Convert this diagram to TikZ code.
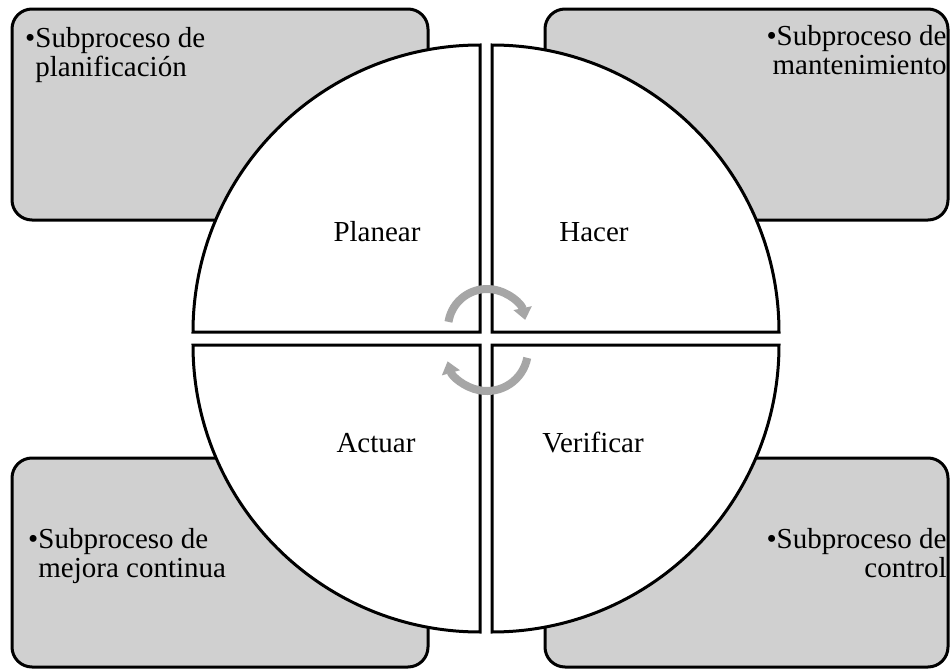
\documentclass[tikz,border=0pt]{standalone}
\usepackage{fontspec}
\setmainfont{Liberation Serif}
\usetikzlibrary{arrows.meta}
\definecolor{boxgray}{RGB}{208,208,208}
\definecolor{arrowgray}{RGB}{166,166,166}

\begin{document}
\begin{tikzpicture}[x=0.5pt, y=-0.5pt,
  subbox/.style={draw=black, fill=boxgray, line width=1.5pt, rounded corners=10pt},
  quarter/.style={draw=black, fill=white, line width=1.5pt},
  cycarrow/.style={draw=arrowgray, line width=4pt, -{Triangle[width=9pt, length=6pt]}},
  subtext/.style={font=\fontsize{14.5}{14.5}\selectfont, inner sep=0pt},
  phase/.style={font=\fontsize{14.5}{14.5}\selectfont, inner sep=0pt, anchor=base}]
  \useasboundingbox (0,0) rectangle (950,669);
  % four subprocess boxes
  \draw[subbox] (12,9) rectangle (428,220);
  \draw[subbox] (545,9) rectangle (948,220);
  \draw[subbox] (12,458) rectangle (428,667);
  \draw[subbox] (545,458) rectangle (948,667);
  % circle in four quarters
  \draw[quarter] (480,332) -- (193,332) arc[start angle=180, end angle=270, radius=287] -- cycle;
  \draw[quarter] (492,332) -- (492,45) arc[start angle=270, end angle=360, radius=287] -- cycle;
  \draw[quarter] (492,345) -- (779,345) arc[start angle=0, end angle=90, radius=287] -- cycle;
  \draw[quarter] (480,345) -- (480,632) arc[start angle=90, end angle=180, radius=287] -- cycle;
  \node[phase] (planear) at (377,242) {Planear};
  \node[phase] (hacer) at (594,242) {Hacer};
  \node[phase] (actuar) at (376,452) {Actuar};
  \node[phase] (verificar) at (593,452) {Verificar};
  % base = baseline of the second line
  \node[subtext, anchor=base west, align=left] (planif) at (35,76) {\llap{\textbullet}Subproceso de\\planificación};
  \node[subtext, anchor=base east, align=right] (mant) at (947,75) {\textbullet Subproceso de\\mantenimiento};
  \node[subtext, anchor=base west, align=left] (mejora) at (38,577) {\llap{\textbullet}Subproceso de\\mejora continua};
  \node[subtext, anchor=base east, align=right] (control) at (947,577) {\textbullet Subproceso de\\control};
  % cycle arrows
  \draw[cycarrow] (487,328) ++(-171:39) arc[start angle=-171, end angle=-12, radius=39];
  \draw[cycarrow] (487,350) ++(11:41) arc[start angle=11, end angle=164, radius=41];
\end{tikzpicture}
\end{document}
